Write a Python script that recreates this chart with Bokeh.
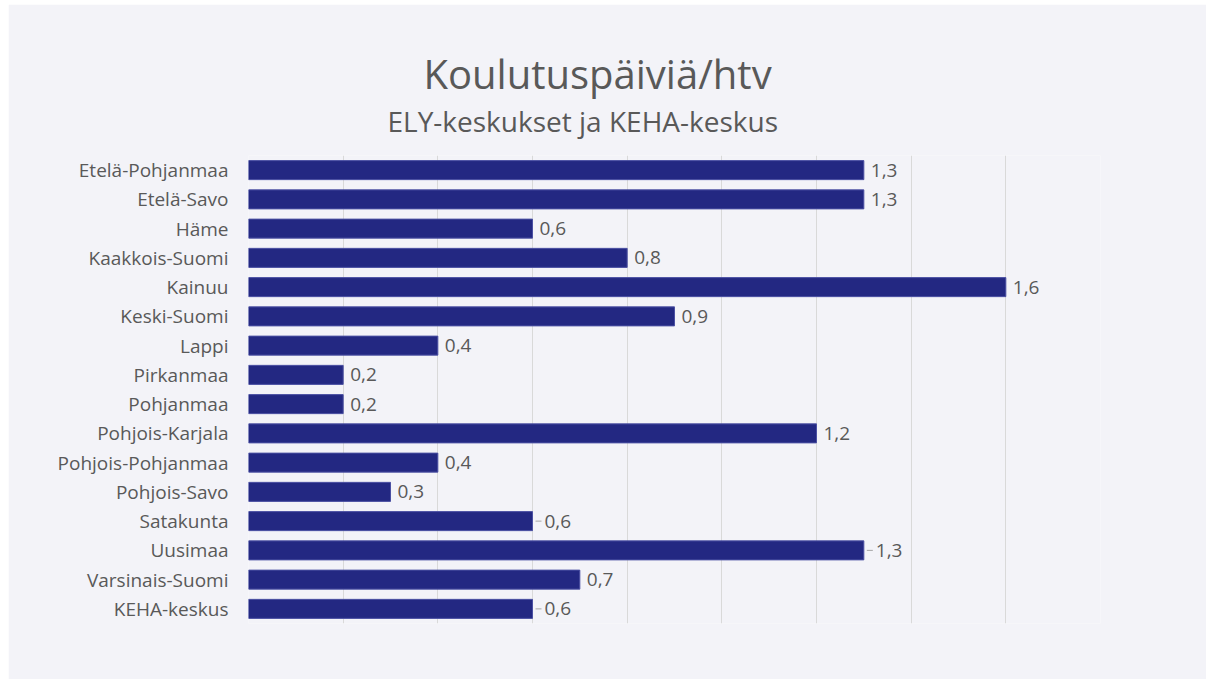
from bokeh.plotting import figure
from bokeh.models import ColumnDataSource, LabelSet, Title, FixedTicker, FactorRange, Range1d, Spacer
from bokeh.layouts import column, row
from bokeh.core.properties import value
from bokeh.embed import file_html
from bokeh.resources import INLINE

categories = ["Etelä-Pohjanmaa", "Etelä-Savo", "Häme", "Kaakkois-Suomi", "Kainuu",
              "Keski-Suomi", "Lappi", "Pirkanmaa", "Pohjanmaa", "Pohjois-Karjala",
              "Pohjois-Pohjanmaa", "Pohjois-Savo", "Satakunta", "Uusimaa",
              "Varsinais-Suomi", "KEHA-keskus"]
values = [1.3, 1.3, 0.6, 0.8, 1.6, 0.9, 0.4, 0.2, 0.2, 1.2, 0.4, 0.3, 0.6, 1.3, 0.7, 0.6]
leader_categories = ["Satakunta", "Uusimaa", "KEHA-keskus"]
title_text = "Koulutuspäiviä/htv"
subtitle_text = "ELY-keskukset ja KEHA-keskus"
x_ticks = [0, 0.2, 0.4, 0.6, 0.8, 1.0, 1.2, 1.4, 1.6, 1.8]

BG = "#f3f3f8"
BAR = "#232882"
TXT = "#595959"
FONT = "Open Sans"

W, H = 1198, 675
ML, MR, MT, MB = 240, 106, 151, 56
XMAX = 1.8
px_per_unit = (W - ML - MR) / XMAX

labels = [f"{v:.1f}".replace(".", ",") for v in values]
has_leader = [c in leader_categories for c in categories]
label_x = [v + ((12 if l else 7) / px_per_unit) for v, l in zip(values, has_leader)]

src = ColumnDataSource(dict(cat=categories, val=values, lab=labels, lx=label_x))

p = figure(width=W, height=H, output_backend="svg", toolbar_location=None, title=None,
           y_range=FactorRange(factors=list(reversed(categories)), range_padding=0),
           x_range=Range1d(0, XMAX),
           min_border_left=ML, min_border_right=MR, min_border_top=MT, min_border_bottom=MB)
p.background_fill_color = BG
p.border_fill_color = BG
p.outline_line_color = None

p.hbar(y="cat", right="val", left=0, height=0.65, source=src,
       fill_color=BAR, line_color="#4b50a3", line_width=1)

# leader lines
lc = [c for c, l in zip(categories, has_leader) if l]
lv = [v for v, l in zip(values, has_leader) if l]
p.segment(x0=[v + 3 / px_per_unit for v in lv], x1=[v + 9 / px_per_unit for v in lv],
          y0=lc, y1=lc, line_color="#a6a6a6", line_width=1)

p.add_layout(LabelSet(x="lx", y="cat", text="lab", source=src, text_baseline="middle",
                      text_align="left", text_font=value(FONT), text_font_size="19px",
                      text_color=TXT))

p.xaxis.visible = False
p.xgrid.ticker = FixedTicker(ticks=x_ticks)
p.xgrid.grid_line_color = "#d9d9d9"
p.ygrid.grid_line_color = None

p.yaxis.axis_line_color = None
p.yaxis.major_tick_line_color = None
p.yaxis.minor_tick_line_color = None
p.yaxis.major_label_text_font = FONT
p.yaxis.major_label_text_font_size = "19px"
p.yaxis.major_label_text_color = TXT
p.yaxis.major_label_standoff = 14

# subtitle first (closest to the frame), then the main title above it
p.add_layout(Title(text=subtitle_text, align="left", offset=139, text_font=FONT,
                   text_font_size="28px", text_font_style="normal", text_color=TXT,
                   standoff=32), "above")
try:
    main_title = Title(text=title_text, align="left", offset=175, text_font=FONT,
                       text_font_size="40px", text_font_style="normal", text_color=TXT,
                       standoff=-35)
except ValueError:
    main_title = Title(text=title_text, align="left", offset=175, text_font=FONT,
                       text_font_size="40px", text_font_style="normal", text_color=TXT,
                       standoff=0)
p.add_layout(main_title, "above")

layout = column(Spacer(height=4), row(Spacer(width=8), p, spacing=0), spacing=0)
open("out.html", "w").write(file_html(layout, INLINE))
